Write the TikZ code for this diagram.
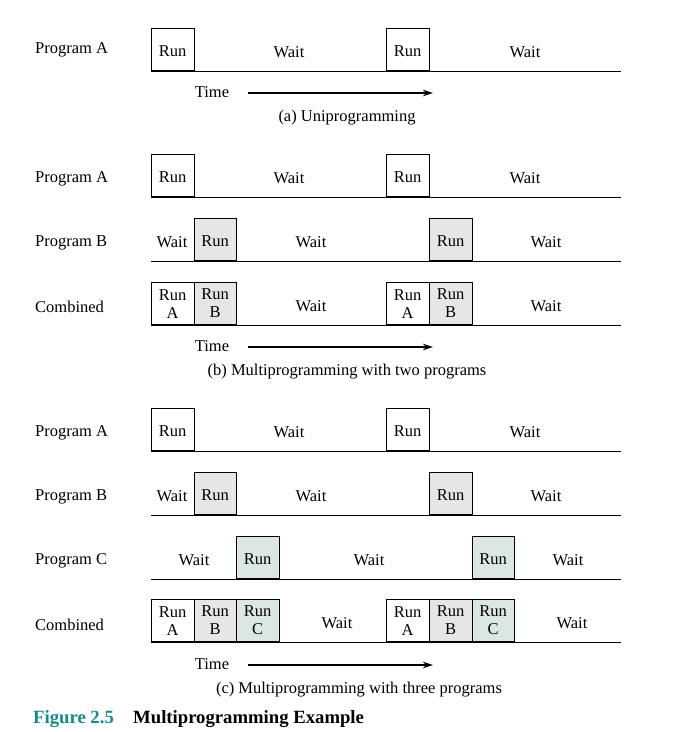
\documentclass[tikz,border=0pt]{standalone}
\usepackage{fontspec}
\setmainfont{Liberation Serif}
\usetikzlibrary{arrows.meta}
\definecolor{runB}{HTML}{E6E6E8}
\definecolor{runC}{HTML}{DAE7E4}
\definecolor{figteal}{HTML}{16898A}
\begin{document}
\begin{tikzpicture}[x=1pt,y=-1pt,
    txt/.style={font=\fontsize{16.5}{18}\selectfont, inner sep=0pt},
    lbl/.style={txt, yshift=-1.5pt},
    cell/.style={txt, draw, line width=0.8pt, minimum width=42.5pt, minimum height=42pt, anchor=south west, align=center},
    runbox/.style={cell, text height=13.5pt, text depth=0pt},
    gray/.style={fill=runB},
    teal/.style={fill=runC},
    rowlbl/.style={lbl, anchor=west},
    base/.style={line width=0.8pt},
    timearrow/.style={line width=1.4pt, -{Stealth[length=10pt,width=6.5pt]}}]
    \useasboundingbox (0,0) rectangle (691,732);

    % (a) uniprogramming
    \node[rowlbl] (aLA) at (35,48) {Program A};
    \node[runbox] (aA1) at (151,71) {Run};
    \node[runbox] (aA2) at (386,71) {Run};
    \node[lbl] (aW1) at (289,51) {Wait};
    \node[lbl] (aW2) at (525,51) {Wait};
    \coordinate (aEnd) at (621,71);
    \draw[base] (aA1.south west) -- (aEnd);
    \node[lbl] (aTime) at (212,91) {Time};
    \coordinate (aTail) at (248,93);
    \coordinate (aArr) at (433,93);
    \draw[timearrow] (aTail) -- (aArr);
    \node[lbl] (aCap) at (347,116) {(a) Uniprogramming};

    % (b) two programs
    \node[rowlbl] (bLA) at (35,177) {Program A};
    \node[runbox] (bA1) at (151,197) {Run};
    \node[runbox] (bA2) at (386,197) {Run};
    \node[lbl] (bAW1) at (289,177) {Wait};
    \node[lbl] (bAW2) at (525,177) {Wait};
    \coordinate (bAEnd) at (621,197);
    \draw[base] (bA1.south west) -- (bAEnd);

    \node[rowlbl] (bLB) at (35,241) {Program B};
    \node[runbox, gray] (bB1) at (193.5,261) {Run};
    \node[runbox, gray] (bB2) at (429,261) {Run};
    \node[lbl] (bBW0) at (172,241) {Wait};
    \node[lbl] (bBW1) at (311,241) {Wait};
    \node[lbl] (bBW2) at (546,241) {Wait};
    \coordinate (bBBeg) at (151,261);
    \coordinate (bBEnd) at (621,261);
    \draw[base] (bBBeg) -- (bBEnd);

    \node[rowlbl] (bLC) at (35,305) {Combined};
    \node[cell] (bC1) at (151,325) {Run\\A};
    \node[cell, gray] (bC2) at (193.5,325) {Run\\B};
    \node[cell] (bC3) at (386,325) {Run\\A};
    \node[cell, gray] (bC4) at (429,325) {Run\\B};
    \node[lbl] (bCW1) at (311,305) {Wait};
    \node[lbl] (bCW2) at (546,305) {Wait};
    \coordinate (bCEnd) at (621,325);
    \draw[base] (bC1.south west) -- (bCEnd);
    \node[lbl] (bTime) at (212,345) {Time};
    \coordinate (bTail) at (248,347);
    \coordinate (bArr) at (433,347);
    \draw[timearrow] (bTail) -- (bArr);
    \node[lbl] (bCap) at (347,370) {(b) Multiprogramming with two programs};

    % (c) three programs
    \node[rowlbl] (cLA) at (35,431) {Program A};
    \node[runbox] (cA1) at (151,451) {Run};
    \node[runbox] (cA2) at (386,451) {Run};
    \node[lbl] (cAW1) at (289,431) {Wait};
    \node[lbl] (cAW2) at (525,431) {Wait};
    \coordinate (cAEnd) at (621,451);
    \draw[base] (cA1.south west) -- (cAEnd);

    \node[rowlbl] (cLB) at (35,495) {Program B};
    \node[runbox, gray] (cB1) at (193.5,515) {Run};
    \node[runbox, gray] (cB2) at (429,515) {Run};
    \node[lbl] (cBW0) at (172,495) {Wait};
    \node[lbl] (cBW1) at (311,495) {Wait};
    \node[lbl] (cBW2) at (546,495) {Wait};
    \coordinate (cBBeg) at (151,515);
    \coordinate (cBEnd) at (621,515);
    \draw[base] (cBBeg) -- (cBEnd);

    \node[rowlbl] (cLC) at (35,559) {Program C};
    \node[runbox, teal] (cC1) at (236,579) {Run};
    \node[runbox, teal] (cC2) at (471.5,579) {Run};
    \node[lbl] (cCW0) at (194,559) {Wait};
    \node[lbl] (cCW1) at (369,559) {Wait};
    \node[lbl] (cCW2) at (568,559) {Wait};
    \coordinate (cCBeg) at (151,579);
    \coordinate (cCEnd) at (621,579);
    \draw[base] (cCBeg) -- (cCEnd);

    \node[rowlbl] (cLD) at (35,623) {Combined};
    \node[cell] (cD1) at (151,642) {Run\\A};
    \node[cell, gray] (cD2) at (193.5,642) {Run\\B};
    \node[cell, teal] (cD3) at (236,642) {Run\\C};
    \node[cell] (cD4) at (386,642) {Run\\A};
    \node[cell, gray] (cD5) at (429,642) {Run\\B};
    \node[cell, teal] (cD6) at (471.5,642) {Run\\C};
    \node[lbl] (cDW1) at (337,622) {Wait};
    \node[lbl] (cDW2) at (572,622) {Wait};
    \coordinate (cDEnd) at (621,642);
    \draw[base] (cD1.south west) -- (cDEnd);
    \node[lbl] (cTime) at (212,663) {Time};
    \coordinate (cTail) at (248,665);
    \coordinate (cArr) at (433,665);
    \draw[timearrow] (cTail) -- (cArr);
    \node[lbl] (cCap) at (359,688) {(c) Multiprogramming with three programs};

    % figure caption
    \node[lbl, anchor=west, font=\fontsize{18.7}{22}\selectfont\bfseries, text=figteal] (fig) at (33,718) {Figure 2.5};
    \node[lbl, anchor=west, font=\fontsize{18.7}{22}\selectfont\bfseries] (figtitle) at (133,718) {Multiprogramming Example};
\end{tikzpicture}
\end{document}
